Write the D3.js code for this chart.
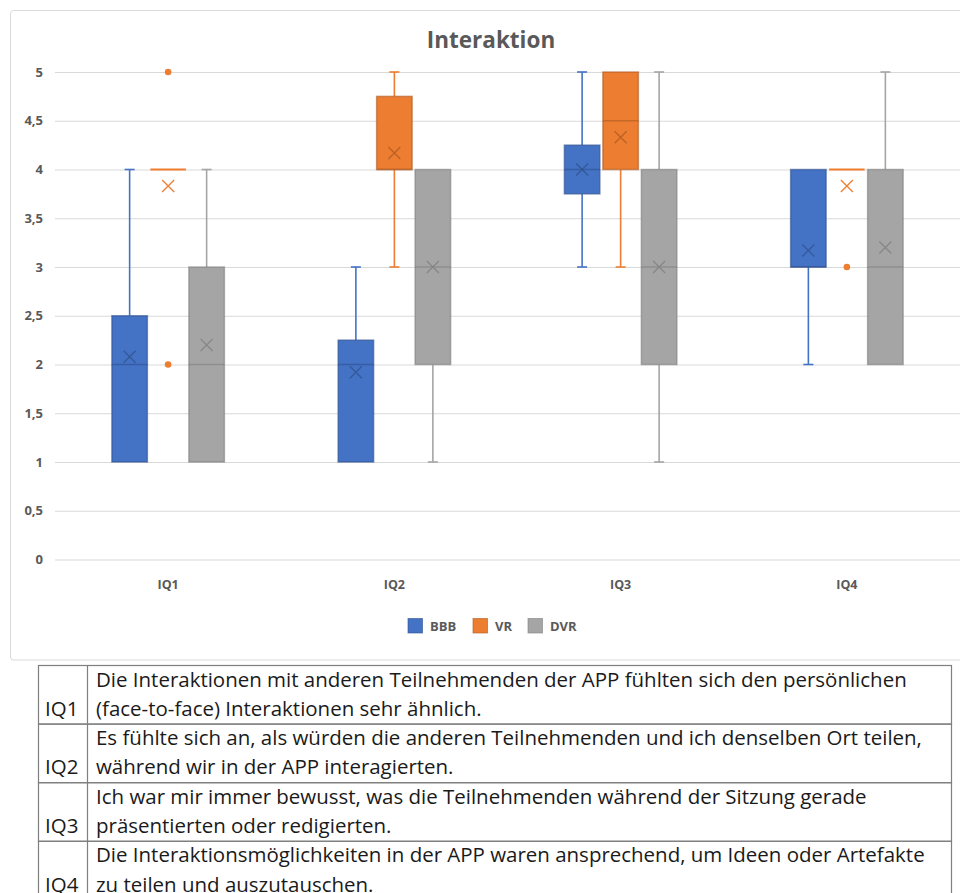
<!DOCTYPE html>
<html><head><meta charset="utf-8">
<script src="https://cdn.jsdelivr.net/npm/d3@7"></script>
<style>html,body{margin:0;padding:0;background:#fff;}</style>
</head><body>
<svg id="c" width="960" height="893"></svg>
<script>
const categories = ["IQ1","IQ2","IQ3","IQ4"];
const seriesNames = ["BBB","VR","DVR"];
const yTicks = [0,0.5,1,1.5,2,2.5,3,3.5,4,4.5,5];

const bbbMin    = [1, 1, 3, 2];
const bbbQ1     = [1, 1, 3.75, 3];
const bbbMedian = [2, 2, 4, 3];
const bbbQ3     = [2.5, 2.25, 4.25, 4];
const bbbMax    = [4, 3, 5, 4];
const bbbMean   = [2.08, 1.92, 4.0, 3.17];
const bbbOutliers = [[], [], [], []];

const vrMin    = [4, 3, 3, 4];
const vrQ1     = [4, 4, 4, 4];
const vrMedian = [4, 4, 4.5, 4];
const vrQ3     = [4, 4.75, 5, 4];
const vrMax    = [4, 5, 5, 4];
const vrMean   = [3.83, 4.17, 4.33, 3.83];
const vrOutliers = [[5, 2], [], [], [3]];

const dvrMin    = [1, 1, 1, 2];
const dvrQ1     = [1, 2, 2, 2];
const dvrMedian = [2, 3, 3, 3];
const dvrQ3     = [3, 4, 4, 4];
const dvrMax    = [4, 4, 5, 5];
const dvrMean   = [2.2, 3.0, 3.0, 3.2];
const dvrOutliers = [[], [], [], []];

const questionIds = ["IQ1","IQ2","IQ3","IQ4"];
const questionLines = [
  ["Die Interaktionen mit anderen Teilnehmenden der APP fühlten sich den persönlichen", "(face-to-face) Interaktionen sehr ähnlich."],
  ["Es fühlte sich an, als würden die anderen Teilnehmenden und ich denselben Ort teilen,", "während wir in der APP interagierten."],
  ["Ich war mir immer bewusst, was die Teilnehmenden während der Sitzung gerade", "präsentierten oder redigierten."],
  ["Die Interaktionsmöglichkeiten in der APP waren ansprechend, um Ideen oder Artefakte", "zu teilen und auszutauschen."]
];

const fills   = {BBB:"#4472C4", VR:"#ED7D31", DVR:"#A5A5A5"};
const borders = {BBB:"#2F528F", VR:"#AE5A21", DVR:"#7F7F7F"};

const stats = {
  BBB:{min:bbbMin,q1:bbbQ1,med:bbbMedian,q3:bbbQ3,max:bbbMax,mean:bbbMean,out:bbbOutliers},
  VR:{min:vrMin,q1:vrQ1,med:vrMedian,q3:vrQ3,max:vrMax,mean:vrMean,out:vrOutliers},
  DVR:{min:dvrMin,q1:dvrQ1,med:dvrMedian,q3:dvrQ3,max:dvrMax,mean:dvrMean,out:dvrOutliers}
};

const svg = d3.select("#c");
const font = "'Open Sans', 'Noto Sans', sans-serif";
const txtCol = "#595959";

// chart frame
svg.append("rect").attr("x",10.5).attr("y",10.5).attr("width",962).attr("height",649.5)
  .attr("rx",3).attr("fill","#fff").attr("stroke","#D9D9D9");

svg.append("text").attr("x",491).attr("y",48).attr("text-anchor","middle")
  .attr("font-family",font).attr("font-weight",700).attr("font-size",22.5)
  .attr("fill",txtCol).text("Interaktion");

const x = d3.scaleBand().domain(categories).range([55,960]);
const y = d3.scaleLinear().domain([0,5]).range([559.5,72]);
const off = d3.scalePoint().domain(seriesNames).range([-38.5,38.5]);
const bw = 35.5;

const loc = d3.formatLocale({decimal:",",thousands:".",grouping:[3],currency:["","€"]});
const fmt = loc.format("~g");

// grid + y axis
const ya = svg.append("g").attr("transform","translate(55,0)")
  .call(d3.axisLeft(y).tickValues(yTicks).tickSize(-905).tickPadding(12).tickFormat(fmt));
ya.select(".domain").remove();
ya.selectAll(".tick line").attr("stroke","#D9D9D9").attr("stroke-width",1);
ya.selectAll(".tick text").attr("font-family",font).attr("font-weight",700)
  .attr("font-size",13).attr("fill",txtCol);

const xa = svg.append("g").attr("transform","translate(0,559.5)")
  .call(d3.axisBottom(x).tickSize(0).tickPadding(21));
xa.select(".domain").remove();
xa.selectAll(".tick text").attr("font-family",font).attr("font-weight",700)
  .attr("font-size",12.5).attr("fill",txtCol);

// boxes
seriesNames.forEach(s => {
  const st = stats[s];
  const g = svg.append("g");
  categories.forEach((c,i) => {
    const cx = x(c) + x.bandwidth()/2 + off(s);
    const col = fills[s], bcol = borders[s];
    if (st.max[i] > st.q3[i]) {
      g.append("line").attr("x1",cx).attr("x2",cx).attr("y1",y(st.q3[i])).attr("y2",y(st.max[i]))
        .attr("stroke",col).attr("stroke-width",1.6);
      g.append("line").attr("x1",cx-5).attr("x2",cx+5).attr("y1",y(st.max[i])).attr("y2",y(st.max[i]))
        .attr("stroke",col).attr("stroke-width",1.6);
    }
    if (st.min[i] < st.q1[i]) {
      g.append("line").attr("x1",cx).attr("x2",cx).attr("y1",y(st.q1[i])).attr("y2",y(st.min[i]))
        .attr("stroke",col).attr("stroke-width",1.6);
      g.append("line").attr("x1",cx-5).attr("x2",cx+5).attr("y1",y(st.min[i])).attr("y2",y(st.min[i]))
        .attr("stroke",col).attr("stroke-width",1.6);
    }
    if (st.q3[i] > st.q1[i]) {
      g.append("rect").attr("x",cx-bw/2).attr("width",bw)
        .attr("y",y(st.q3[i])).attr("height",y(st.q1[i])-y(st.q3[i]))
        .attr("fill",col).attr("stroke",bcol).attr("stroke-opacity",0.6).attr("stroke-width",1.5);
      g.append("line").attr("x1",cx-bw/2).attr("x2",cx+bw/2).attr("y1",y(st.med[i])).attr("y2",y(st.med[i]))
        .attr("stroke",bcol).attr("stroke-opacity",0.6).attr("stroke-width",1.5);
    } else {
      g.append("line").attr("x1",cx-bw/2).attr("x2",cx+bw/2).attr("y1",y(st.q1[i])).attr("y2",y(st.q1[i]))
        .attr("stroke",col).attr("stroke-width",1.8);
    }
    const my = y(st.mean[i]), r = 6;
    const inside = st.q3[i] > st.q1[i];
    g.append("path").attr("d",`M${cx-r},${my-r}L${cx+r},${my+r}M${cx-r},${my+r}L${cx+r},${my-r}`)
      .attr("stroke", inside ? bcol : col).attr("stroke-opacity", inside?0.8:1).attr("stroke-width",1.3).attr("fill","none");
    st.out[i].forEach(v => {
      g.append("circle").attr("cx",cx).attr("cy",y(v)).attr("r",3.3).attr("fill",col);
    });
  });
});

// legend
const legendX = [408, 473, 528];
const lg = svg.append("g");
seriesNames.forEach((s,i) => {
  lg.append("rect").attr("x",legendX[i]).attr("y",618.5).attr("width",14.5).attr("height",14.5)
    .attr("fill",fills[s]).attr("stroke",borders[s]).attr("stroke-opacity",0.6);
  lg.append("text").attr("x",legendX[i]+22).attr("y",630.5).attr("font-family",font)
    .attr("font-weight",700).attr("font-size",13).attr("fill",txtCol).text(s);
});

// table
const tFont = "'Open Sans', 'Noto Sans', sans-serif";
const tLeft = 38.5, tRight = 951.5, tDiv = 87.5, tTop = 665.5, rowH = 58.6;
const tbl = svg.append("g");
const probe = tbl.append("text").attr("font-family",tFont).attr("font-size",20).text(questionLines[0][0]);
const wMeas = probe.node().getComputedTextLength();
probe.remove();
const tSize = 20 * 811 / wMeas;

questionIds.forEach((q,i) => {
  const top = tTop + i*rowH;
  tbl.append("rect").attr("x",tLeft).attr("y",top).attr("width",tRight-tLeft).attr("height",rowH)
    .attr("fill","none").attr("stroke","#7F7F7F").attr("stroke-width",1.2);
  tbl.append("line").attr("x1",tDiv).attr("x2",tDiv).attr("y1",top).attr("y2",top+rowH)
    .attr("stroke","#7F7F7F").attr("stroke-width",1.2);
  questionLines[i].forEach((ln,j) => {
    tbl.append("text").attr("x",96).attr("y",top + 21 + j*29.2).attr("font-family",tFont)
      .attr("font-size",tSize).attr("fill","#1a1a1a").text(ln);
  });
  tbl.append("text").attr("x",45).attr("y",top + 50.2).attr("font-family",tFont)
    .attr("font-size",tSize).attr("fill","#1a1a1a").text(q);
});
</script>
</body></html>
